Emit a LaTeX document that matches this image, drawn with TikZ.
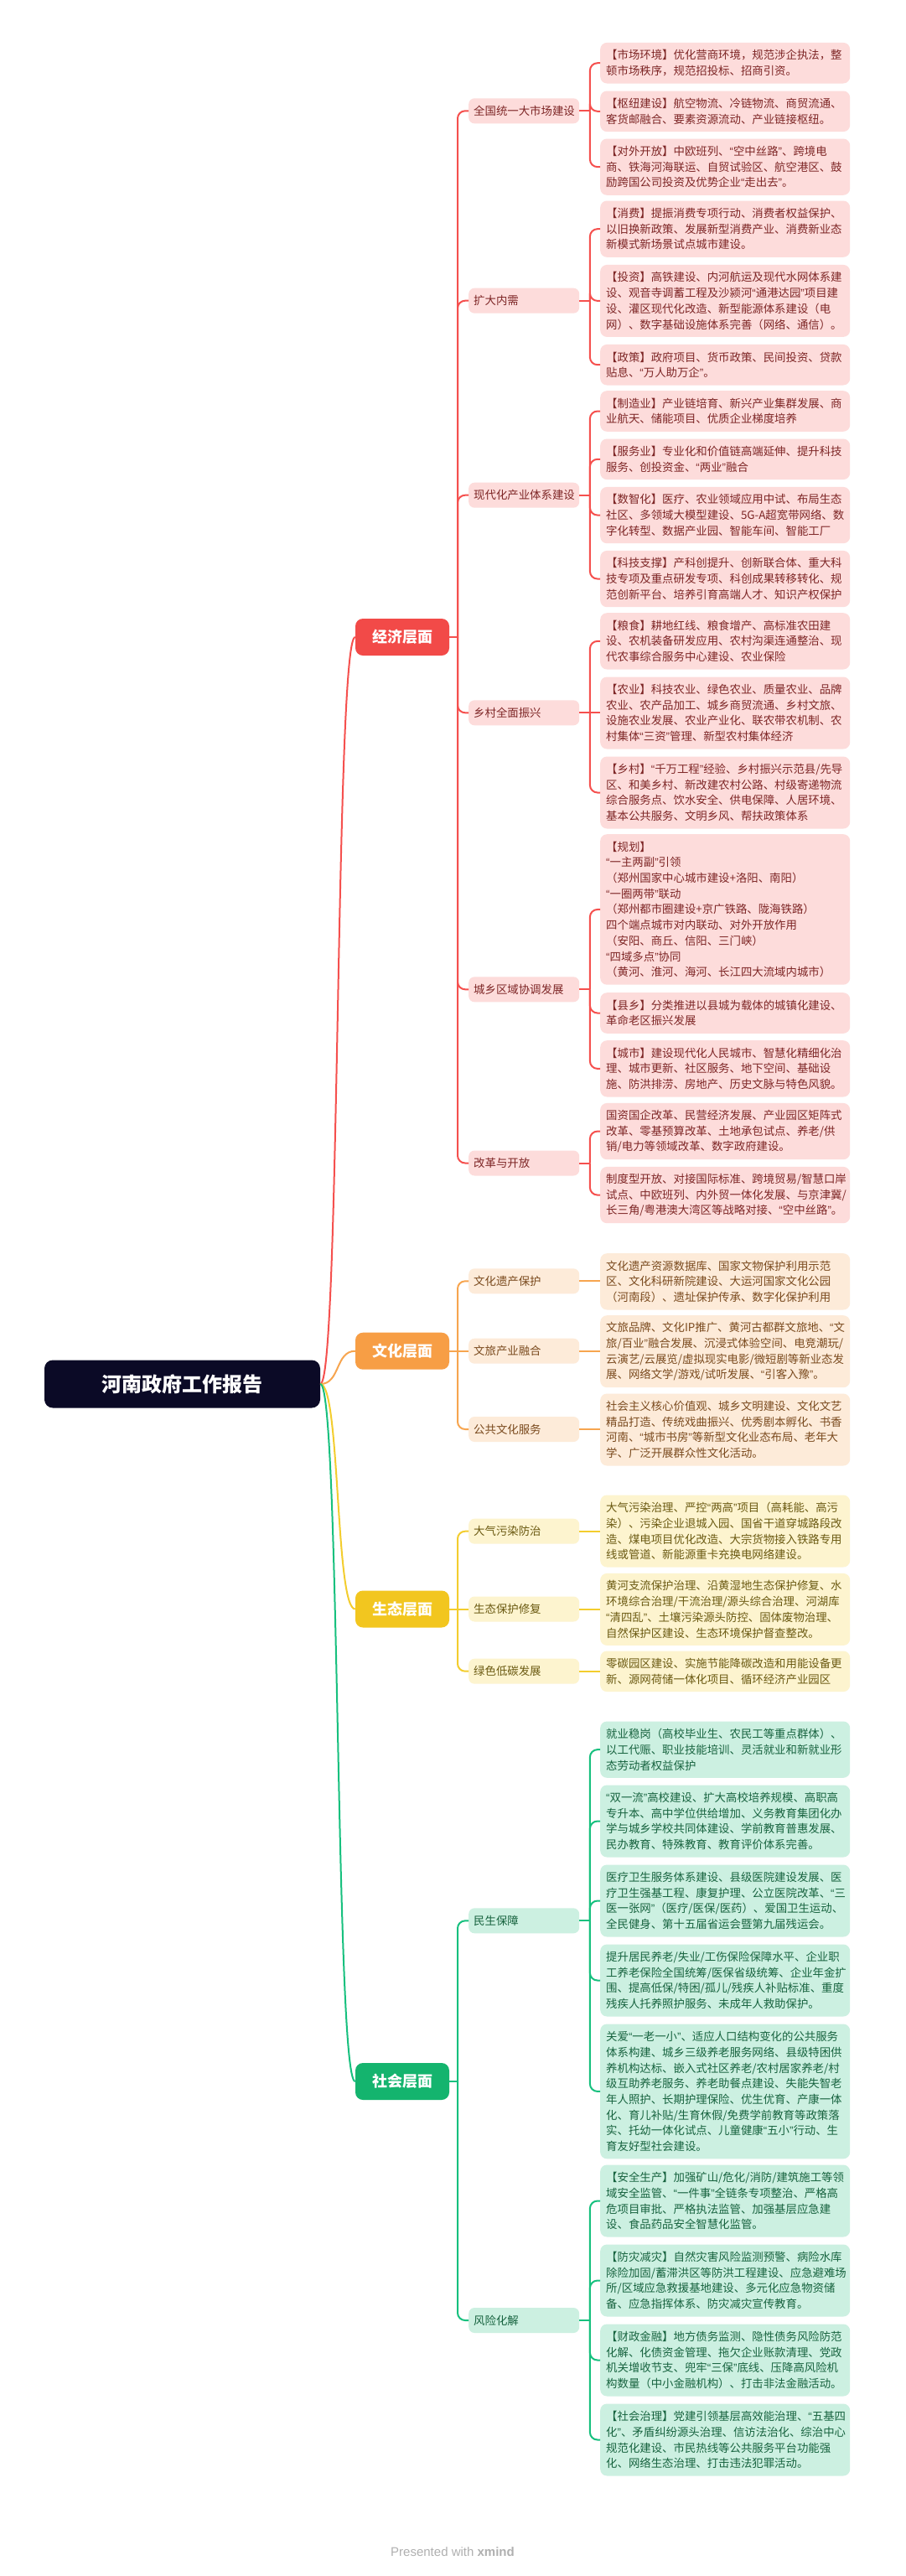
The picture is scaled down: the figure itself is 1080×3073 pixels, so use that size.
\documentclass[tikz,border=0pt]{standalone}
\usepackage{fontspec}
\setmainfont{Noto Sans CJK SC}
\newfontfamily\qfont{Liberation Sans}
\newcommand\qo{{\qfont “}}
\newcommand\qc{{\qfont ”}}
\usetikzlibrary{calc}
\definecolor{eLine}{HTML}{F5504E}
\definecolor{eFill}{HTML}{FDDCDB}
\definecolor{eText}{HTML}{7E2626}
\definecolor{eMain}{HTML}{F24A48}
\definecolor{cLine}{HTML}{F7A54F}
\definecolor{cFill}{HTML}{FDEBD9}
\definecolor{cText}{HTML}{7A4A1E}
\definecolor{cMain}{HTML}{F79E45}
\definecolor{gLine}{HTML}{F3CD2E}
\definecolor{gFill}{HTML}{FDF4CF}
\definecolor{gText}{HTML}{6B5A12}
\definecolor{gMain}{HTML}{F2C61F}
\definecolor{sLine}{HTML}{17C07E}
\definecolor{sFill}{HTML}{CCF0E1}
\definecolor{sText}{HTML}{17633F}
\definecolor{sMain}{HTML}{14B46E}
\definecolor{rootFill}{HTML}{0B0A26}
\definecolor{footGray}{HTML}{B0B0B0}
\begin{document}
\begin{tikzpicture}[x=1pt,y=-1pt,
  conn/.style={line width=2pt},
  elbow/.style={conn,rounded corners=9pt},
  leaf/.style={rectangle,rounded corners=8pt,anchor=north west,text width=284pt,inner xsep=7pt,inner ysep=0pt,align=left,font=\fontsize{13.4}{18.7}\selectfont},
  hA/.style={minimum height=48.6pt},
  hB/.style={minimum height=67.3pt},
  hC/.style={minimum height=86pt},
  eLeaf/.style={leaf,fill=eFill,text=eText},
  cLeaf/.style={leaf,fill=cFill,text=cText},
  gLeaf/.style={leaf,fill=gFill,text=gText},
  sLeaf/.style={leaf,fill=sFill,text=sText},
  mid/.style={rectangle,rounded corners=7pt,anchor=west,minimum height=30pt,text width=120pt,inner xsep=6pt,inner ysep=0pt,align=left,font=\fontsize{13.4}{16}\selectfont},
  eMid/.style={mid,fill=eFill,text=eText},
  cMid/.style={mid,fill=cFill,text=cText},
  gMid/.style={mid,fill=gFill,text=gText},
  sMid/.style={mid,fill=sFill,text=sText},
  lvl/.style={rectangle,rounded corners=9pt,minimum width=112pt,minimum height=44pt,inner sep=0pt,text=white,font=\fontsize{18}{22}\selectfont\bfseries},
  rootbox/.style={rectangle,rounded corners=10pt,fill=rootFill,minimum width=329pt,minimum height=57pt,inner sep=0pt,text=white,font=\fontsize{24}{28}\selectfont\bfseries}
]
\fill[white] (0,0) rectangle (1080,3073);
\path[use as bounding box] (0,0) rectangle (1080,3073);

% ---------- root and level 1 ----------
\node[rootbox] (root) at (217.5,1651) {河南政府工作报告};
\node[lvl,fill=eMain] (E) at (480,760) {经济层面};
\node[lvl,fill=cMain] (C) at (480,1611.7) {文化层面};
\node[lvl,fill=gMain] (G) at (480,1919.5) {生态层面};
\node[lvl,fill=sMain] (S) at (480,2483) {社会层面};

% ---------- economy ----------
\node[eMid] (m1) at (559,132.3) {全国统一大市场建设};
\node[eMid] (m2) at (559,358.7) {扩大内需};
\node[eMid] (m3) at (559,590.7) {现代化产业体系建设};
\node[eMid] (m4) at (559,850.3) {乡村全面振兴};
\node[eMid] (m5) at (559,1180.3) {城乡区域协调发展};
\node[eMid] (m6) at (559,1387.5) {改革与开放};

\node[eLeaf,hA] (l1) at (716,50.7) {【市场环境】优化营商环境，规范涉企执法，整\\顿市场秩序，规范招投标、招商引资。};
\node[eLeaf,hA] (l2) at (716,108.3) {【枢纽建设】航空物流、冷链物流、商贸流通、\\客货邮融合、要素资源流动、产业链接枢纽。};
\node[eLeaf,hB] (l3) at (716,165.3) {【对外开放】中欧班列、\qo{}空中丝路\qc{}、跨境电\\商、铁海河海联运、自贸试验区、航空港区、鼓\\励跨国公司投资及优势企业\qo{}走出去\qc{}。};
\node[eLeaf,hB] (l4) at (716,239.3) {【消费】提振消费专项行动、消费者权益保护、\\以旧换新政策、发展新型消费产业、消费新业态\\新模式新场景试点城市建设。};
\node[eLeaf,hC] (l5) at (716,315.7) {【投资】高铁建设、内河航运及现代水网体系建\\设、观音寺调蓄工程及沙颍河\qo{}通港达园\qc{}项目建\\设、灌区现代化改造、新型能源体系建设（电\\网）、数字基础设施体系完善（网络、通信）。};
\node[eLeaf,hA] (l6) at (716,410.7) {【政策】政府项目、货币政策、民间投资、贷款\\贴息、\qo{}万人助万企\qc{}。};
\node[eLeaf,hA] (l7) at (716,466) {【制造业】产业链培育、新兴产业集群发展、商\\业航天、储能项目、优质企业梯度培养};
\node[eLeaf,hA] (l8) at (716,523.3) {【服务业】专业化和价值链高端延伸、提升科技\\服务、创投资金、\qo{}两业\qc{}融合};
\node[eLeaf,hB] (l9) at (716,580.7) {【数智化】医疗、农业领域应用中试、布局生态\\社区、多领域大模型建设、\mbox{5G-A}超宽带网络、数\\字化转型、数据产业园、智能车间、智能工厂};
\node[eLeaf,hB] (l10) at (716,656.7) {【科技支撑】产科创提升、创新联合体、重大科\\技专项及重点研发专项、科创成果转移转化、规\\范创新平台、培养引育高端人才、知识产权保护};
\node[eLeaf,hB] (l11) at (716,731) {【粮食】耕地红线、粮食增产、高标准农田建\\设、农机装备研发应用、农村沟渠连通整治、现\\代农事综合服务中心建设、农业保险};
\node[eLeaf,hC] (l12) at (716,807.3) {【农业】科技农业、绿色农业、质量农业、品牌\\农业、农产品加工、城乡商贸流通、乡村文旅、\\设施农业发展、农业产业化、联农带农机制、农\\村集体\qo{}三资\qc{}管理、新型农村集体经济};
\node[eLeaf,hC] (l13) at (716,902.3) {【乡村】\qo{}千万工程\qc{}经验、乡村振兴示范县/先导\\区、和美乡村、新改建农村公路、村级寄递物流\\综合服务点、饮水安全、供电保障、人居环境、\\基本公共服务、文明乡风、帮扶政策体系};
\node[eLeaf,minimum height=179.5pt] (l14) at (716,995) {【规划】\\\qo{}一主两副\qc{}引领\\（郑州国家中心城市建设+洛阳、南阳）\\\qo{}一圈两带\qc{}联动\\（郑州都市圈建设+京广铁路、陇海铁路）\\四个端点城市对内联动、对外开放作用\\（安阳、商丘、信阳、三门峡）\\\qo{}四域多点\qc{}协同\\（黄河、淮河、海河、长江四大流域内城市）};
\node[eLeaf,hA] (l15) at (716,1184) {【县乡】分类推进以县城为载体的城镇化建设、\\革命老区振兴发展};
\node[eLeaf,hB] (l16) at (716,1241) {【城市】建设现代化人民城市、智慧化精细化治\\理、城市更新、社区服务、地下空间、基础设\\施、防洪排涝、房地产、历史文脉与特色风貌。};
\node[eLeaf,hB] (l17) at (716,1315.7) {国资国企改革、民营经济发展、产业园区矩阵式\\改革、零基预算改革、土地承包试点、养老/供\\销/电力等领域改革、数字政府建设。};
\node[eLeaf,hB] (l18) at (716,1391.7) {制度型开放、对接国际标准、跨境贸易/智慧口岸\\试点、中欧班列、内外贸一体化发展、与京津冀/\\长三角/粤港澳大湾区等战略对接、\qo{}空中丝路\qc{}。};

% ---------- culture ----------
\node[cMid] (c1) at (559,1528.3) {文化遗产保护};
\node[cMid] (c2) at (559,1611.7) {文旅产业融合};
\node[cMid] (c3) at (559,1705) {公共文化服务};
\node[cLeaf,hB] (l19) at (716,1495) {文化遗产资源数据库、国家文物保护利用示范\\区、文化科研新院建设、大运河国家文化公园\\（河南段）、遗址保护传承、数字化保护利用};
\node[cLeaf,hC] (l20) at (716,1569) {文旅品牌、文化IP推广、黄河古都群文旅地、\qo{}文\\旅/百业\qc{}融合发展、沉浸式体验空间、电竞潮玩/\\云演艺/云展览/虚拟现实电影/微短剧等新业态发\\展、网络文学/游戏/试听发展、\qo{}引客入豫\qc{}。};
\node[cLeaf,hC] (l21) at (716,1662.3) {社会主义核心价值观、城乡文明建设、文化文艺\\精品打造、传统戏曲振兴、优秀剧本孵化、书香\\河南、\qo{}城市书房\qc{}等新型文化业态布局、老年大\\学、广泛开展群众性文化活动。};

% ---------- ecology ----------
\node[gMid] (g1) at (559,1826.7) {大气污染防治};
\node[gMid] (g2) at (559,1919.5) {生态保护修复};
\node[gMid] (g3) at (559,1993.7) {绿色低碳发展};
\node[gLeaf,hC] (l22) at (716,1783.3) {大气污染治理、严控\qo{}两高\qc{}项目（高耗能、高污\\染）、污染企业退城入园、国省干道穿城路段改\\造、煤电项目优化改造、大宗货物接入铁路专用\\线或管道、新能源重卡充换电网络建设。};
\node[gLeaf,hC] (l23) at (716,1876.7) {黄河支流保护治理、沿黄湿地生态保护修复、水\\环境综合治理/干流治理/源头综合治理、河湖库\\\qo{}清四乱\qc{}、土壤污染源头防控、固体废物治理、\\自然保护区建设、生态环境保护督查整改。};
\node[gLeaf,hA] (l24) at (716,1969.3) {零碳园区建设、实施节能降碳改造和用能设备更\\新、源网荷储一体化项目、循环经济产业园区};

% ---------- society ----------
\node[sMid] (s1) at (559,2291.3) {民生保障};
\node[sMid] (s2) at (559,2768) {风险化解};
\node[sLeaf,hB] (l25) at (716,2053.3) {就业稳岗（高校毕业生、农民工等重点群体）、\\以工代赈、职业技能培训、灵活就业和新就业形\\态劳动者权益保护};
\node[sLeaf,hC] (l26) at (716,2129.3) {\qo{}双一流\qc{}高校建设、扩大高校培养规模、高职高\\专升本、高中学位供给增加、义务教育集团化办\\学与城乡学校共同体建设、学前教育普惠发展、\\民办教育、特殊教育、教育评价体系完善。};
\node[sLeaf,hC] (l27) at (716,2224.3) {医疗卫生服务体系建设、县级医院建设发展、医\\疗卫生强基工程、康复护理、公立医院改革、\qo{}三\\医一张网\qc{}（医疗/医保/医药）、爱国卫生运动、\\全民健身、第十五届省运会暨第九届残运会。};
\node[sLeaf,hC] (l28) at (716,2319.3) {提升居民养老/失业/工伤保险保障水平、企业职\\工养老保险全国统筹/医保省级统筹、企业年金扩\\围、提高低保/特困/孤儿/残疾人补贴标准、重度\\残疾人托养照护服务、未成年人救助保护。};
\node[sLeaf,minimum height=160.8pt] (l29) at (716,2414.3) {关爱\qo{}一老一小\qc{}、适应人口结构变化的公共服务\\体系构建、城乡三级养老服务网络、县级特困供\\养机构达标、嵌入式社区养老/农村居家养老/村\\级互助养老服务、养老助餐点建设、失能失智老\\年人照护、长期护理保险、优生优育、产康一体\\化、育儿补贴/生育休假/免费学前教育等政策落\\实、托幼一体化试点、儿童健康\qo{}五小\qc{}行动、生\\育友好型社会建设。};
\node[sLeaf,hC] (l30) at (716,2582.3) {【安全生产】加强矿山/危化/消防/建筑施工等领\\域安全监管、\qo{}一件事\qc{}全链条专项整治、严格高\\危项目审批、严格执法监管、加强基层应急建\\设、食品药品安全智慧化监管。};
\node[sLeaf,hC] (l31) at (716,2677.3) {【防灾减灾】自然灾害风险监测预警、病险水库\\除险加固/蓄滞洪区等防洪工程建设、应急避难场\\所/区域应急救援基地建设、多元化应急物资储\\备、应急指挥体系、防灾减灾宣传教育。};
\node[sLeaf,hC] (l32) at (716,2772.3) {【财政金融】地方债务监测、隐性债务风险防范\\化解、化债资金管理、拖欠企业账款清理、党政\\机关增收节支、兜牢\qo{}三保\qc{}底线、压降高风险机\\构数量（中小金融机构）、打击非法金融活动。};
\node[sLeaf,hC] (l33) at (716,2867.3) {【社会治理】党建引领基层高效能治理、\qo{}五基四\\化\qc{}、矛盾纠纷源头治理、信访法治化、综治中心\\规范化建设、市民热线等公共服务平台功能强\\化、网络生态治理、打击违法犯罪活动。};

% ---------- footer ----------
\node[font=\qfont\fontsize{15}{18}\selectfont,text=footGray] (foot) at (540,3044) {Presented with \textbf{xmind}};

% ---------- connectors: root to level 1 ----------
\draw[conn,eLine] (root.east) .. controls ($(root.east)+(24,0)$) and ($(E.west)+(-24,0)$) .. (E.west);
\draw[conn,cLine] (root.east) .. controls ($(root.east)+(24,0)$) and ($(C.west)+(-24,0)$) .. (C.west);
\draw[conn,gLine] (root.east) .. controls ($(root.east)+(24,0)$) and ($(G.west)+(-24,0)$) .. (G.west);
\draw[conn,sLine] (root.east) .. controls ($(root.east)+(24,0)$) and ($(S.west)+(-24,0)$) .. (S.west);

% ---------- junctions ----------
\coordinate (jE) at (546,760);
\coordinate (jC) at (546,1611.7);
\coordinate (jG) at (546,1919.5);
\coordinate (jS) at (546,2483);
\foreach \m in {m1,m2,m3,m4,m5,m6}{\coordinate (j\m) at ($(\m.east)+(12.5,0)$);}
\coordinate (js1) at ($(s1.east)+(12.5,0)$);
\coordinate (js2) at ($(s2.east)+(12.5,0)$);

% economy
\draw[conn,eLine] (E.east) -- (jE);
\foreach \m in {m1,m2,m3,m4,m5,m6}{\draw[elbow,eLine] (jE) |- (\m.west);}
\foreach \m in {m1,m2,m3,m4,m5,m6}{\draw[conn,eLine] (\m.east) -- (j\m);}
\foreach \l in {l1,l2,l3}{\draw[elbow,eLine] (jm1) |- (\l.west);}
\foreach \l in {l4,l5,l6}{\draw[elbow,eLine] (jm2) |- (\l.west);}
\foreach \l in {l7,l8,l9,l10}{\draw[elbow,eLine] (jm3) |- (\l.west);}
\foreach \l in {l11,l13}{\draw[elbow,eLine] (jm4) |- (\l.west);}
\draw[conn,eLine] (jm4) -- (jm4 -| l12.west);
\foreach \l in {l14,l15,l16}{\draw[elbow,eLine] (jm5) |- (\l.west);}
\foreach \l in {l17,l18}{\draw[elbow,eLine] (jm6) |- (\l.west);}

% culture
\draw[conn,cLine] (C.east) -- (jC);
\draw[elbow,cLine] (jC) |- (c1.west);
\draw[conn,cLine] (jC) -- (c2.west);
\draw[elbow,cLine] (jC) |- (c3.west);
\draw[conn,cLine] (c1.east) -- (c1.east -| l19.west);
\draw[conn,cLine] (c2.east) -- (c2.east -| l20.west);
\draw[conn,cLine] (c3.east) -- (c3.east -| l21.west);

% ecology
\draw[conn,gLine] (G.east) -- (jG);
\draw[elbow,gLine] (jG) |- (g1.west);
\draw[conn,gLine] (jG) -- (g2.west);
\draw[elbow,gLine] (jG) |- (g3.west);
\draw[conn,gLine] (g1.east) -- (g1.east -| l22.west);
\draw[conn,gLine] (g2.east) -- (g2.east -| l23.west);
\draw[conn,gLine] (g3.east) -- (g3.east -| l24.west);

% society
\draw[conn,sLine] (S.east) -- (jS);
\draw[elbow,sLine] (jS) |- (s1.west);
\draw[elbow,sLine] (jS) |- (s2.west);
\draw[conn,sLine] (s1.east) -- (js1);
\draw[conn,sLine] (s2.east) -- (js2);
\foreach \l in {l25,l26,l27,l28,l29}{\draw[elbow,sLine] (js1) |- (\l.west);}
\foreach \l in {l30,l31,l32,l33}{\draw[elbow,sLine] (js2) |- (\l.west);}
\end{tikzpicture}
\end{document}
